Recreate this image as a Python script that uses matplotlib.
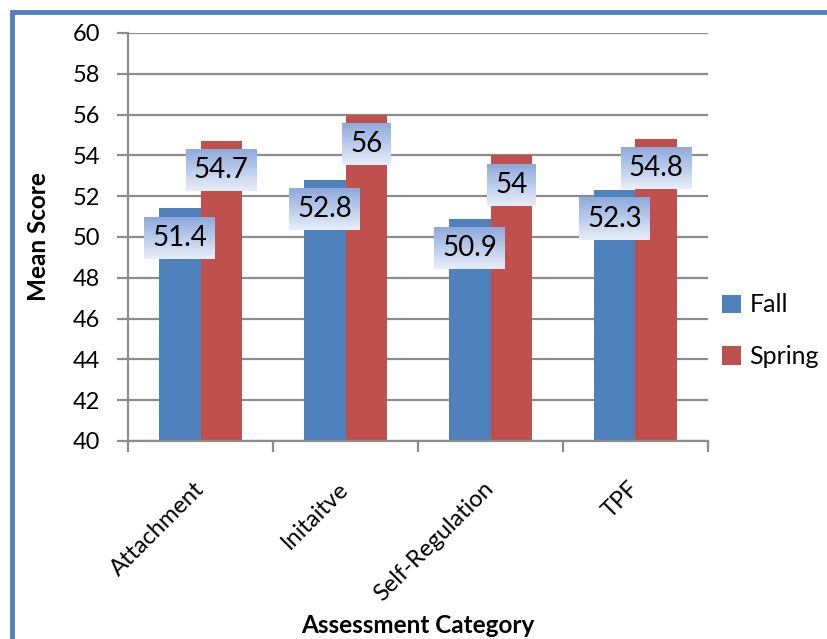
import numpy as np
import matplotlib
matplotlib.use("Agg")
import matplotlib.pyplot as plt
from matplotlib.patches import Rectangle
from matplotlib.colors import LinearSegmentedColormap

categories = ["Attachment", "Initaitve", "Self-Regulation", "TPF"]
fall = [51.4, 52.8, 50.9, 52.3]
spring = [54.7, 56.0, 54.0, 54.8]
fall_labels = ["51.4", "52.8", "50.9", "52.3"]
spring_labels = ["54.7", "56", "54", "54.8"]

plt.rcParams['font.family'] = ['Lato', 'DejaVu Sans']

fig = plt.figure(figsize=(8.27, 6.39), dpi=100)
ax = fig.add_axes([0.1548, 0.3099, 0.7013, 0.6385])

# blue frame (left + top edges)
fig.patches.append(Rectangle((12 / 827, -0.1), 1.2, 1 - 12 / 639 + 0.1,
                             transform=fig.transFigure, fill=False,
                             edgecolor="#4f81bd", linewidth=3.5))

x = np.arange(len(categories))
w = 0.286
ax.bar(x - w / 2, [v - 40 for v in fall], w, bottom=40, color="#4f81bd",
       label="Fall", zorder=2)
ax.bar(x + w / 2, [v - 40 for v in spring], w, bottom=40, color="#c0504d",
       label="Spring", zorder=2)

ax.set_xlim(-0.5, len(categories) - 0.5)
ax.set_ylim(40, 60)
ax.set_yticks(range(40, 61, 2))
ax.yaxis.grid(True, color="#8c8c8c", linewidth=1.6, zorder=0)
ax.set_axisbelow(True)

ax.set_xticks(np.arange(-0.5, len(categories), 1.0))
ax.set_xticklabels([])
ax.set_xticks(x, minor=True)
ax.set_xticklabels(categories, minor=True, rotation=45, ha="right",
                   va="center", rotation_mode="anchor", fontsize=17)
ax.tick_params(axis="x", which="minor", length=0, pad=32)
ax.tick_params(axis="x", which="major", length=8, width=1.6, color="#8c8c8c")
ax.tick_params(axis="y", length=8, width=1.6, color="#8c8c8c", labelsize=17, pad=12)

for s in ["top", "right"]:
    ax.spines[s].set_visible(False)
for s in ["left", "bottom"]:
    ax.spines[s].set_color("#8c8c8c")
    ax.spines[s].set_linewidth(1.6)

ax.set_ylabel("Mean Score", fontsize=17.5, fontweight="bold")
ax.yaxis.set_label_coords(-0.135, 0.5)
ax.set_xlabel("Assessment Category", fontsize=17.5, fontweight="bold")
ax.xaxis.set_label_coords(0.5, -0.425)

ax.legend(loc="center left", bbox_to_anchor=(0.985, 0.27), frameon=False,
          fontsize=18, handlelength=0.75, handleheight=0.75,
          handletextpad=0.35, labelspacing=1.15)

# data labels
texts = []
for xs, vals, labs in [(x - w / 2, fall, fall_labels), (x + w / 2, spring, spring_labels)]:
    for xi, v, lab in zip(xs, vals, labs):
        t = ax.annotate(lab, (xi, v), xytext=(0, -21), textcoords="offset points",
                        ha="center", va="center", fontsize=20, zorder=5)
        texts.append(t)

fig.canvas.draw()
cmap = LinearSegmentedColormap.from_list("lbl", ["#e8eef9", "#8eaadc"])
grad = np.linspace(0, 1, 64).reshape(-1, 1)
inv = ax.transData.inverted()
for t in texts:
    bb = t.get_window_extent()
    cy = (bb.y0 + bb.y1) / 2
    x0, y0 = inv.transform((bb.x0 - 8, cy - 21))
    x1, y1 = inv.transform((bb.x1 + 8, cy + 21))
    ax.imshow(grad, cmap=cmap, extent=[x0, x1, y0, y1], origin="lower",
              aspect="auto", zorder=4, interpolation="bilinear")

ax.set_xlim(-0.5, len(categories) - 0.5)
ax.set_ylim(40, 60)

fig.savefig("out.png", dpi=100)
